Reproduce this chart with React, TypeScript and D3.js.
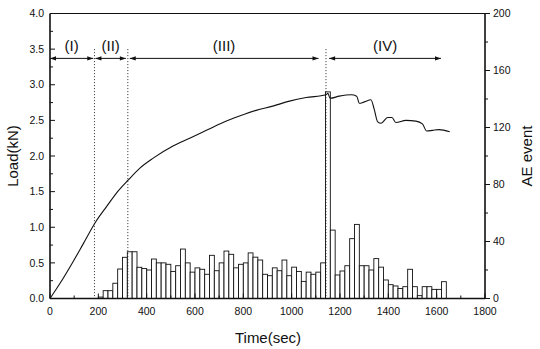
import React from "react";
import * as d3 from "d3";

const X_TICKS = [0, 200, 400, 600, 800, 1000, 1200, 1400, 1600, 1800];
const X_MINOR = [100, 300, 500, 700, 900, 1100, 1300, 1500, 1700];
const LOAD_TICKS = [0, 0.5, 1.0, 1.5, 2.0, 2.5, 3.0, 3.5, 4.0];
const LOAD_MINOR = [0.25, 0.75, 1.25, 1.75, 2.25, 2.75, 3.25, 3.75];
const AE_TICKS = [0, 40, 80, 120, 160, 200];
const AE_MINOR = [20, 60, 100, 140, 180];

const LOAD_TIME = [0, 41, 96, 138, 190, 234, 275, 323, 372, 427, 509, 578, 647, 716, 784, 853, 922, 991, 1060, 1142, 1150, 1159, 1197, 1246, 1269, 1280, 1301, 1328, 1342, 1356, 1370, 1397, 1415, 1431, 1473, 1514, 1541, 1559, 1583, 1610, 1654];
const LOAD_VALUE = [0, 0.21, 0.52, 0.77, 1.08, 1.29, 1.48, 1.66, 1.83, 1.97, 2.14, 2.25, 2.36, 2.47, 2.56, 2.64, 2.70, 2.77, 2.82, 2.86, 2.88, 2.81, 2.84, 2.86, 2.84, 2.74, 2.76, 2.79, 2.65, 2.48, 2.46, 2.54, 2.54, 2.47, 2.50, 2.49, 2.45, 2.35, 2.36, 2.37, 2.34];

const AE_FIRST_BIN = 200;
const AE_BIN_WIDTH = 20;
const AE_COUNTS = [
  1, 5.5, 5.5, 10.7, 20.7, 28.9, 32.8, 32.8, 21.9, 21,
  20, 27.7, 25, 25, 24, 19, 23, 34.7, 25, 18.5,
  21.5, 20.5, 17, 30.3, 19.5, 25, 33.3, 31, 21.5, 24,
  25, 32, 29, 27, 17, 16, 21.5, 19.5, 27, 16,
  22, 19, 12, 18.5, 17, 18.5, 25, 145, 48, 16.5,
  19.3, 23, 42, 52, 23, 23, 20, 28, 22, 13,
  9.7, 8.8, 7, 8.3, 20.5, 8.3, 2, 8.3, 8.3, 6.4,
  6.4, 11.8,
];

const REGION_LABELS = ["(I)", "(II)", "(III)", "(IV)"];
const REGION_START = [0, 188, 330, 1155];
const REGION_END = [179, 314, 1111, 1618];
const DIVIDERS = [184, 322, 1142];
const ARROW_LOAD = 3.37;
const LABEL_LOAD = 3.47;
const DIVIDER_TOP_LOAD = 3.5;

const W = 540;
const H = 349;
const INK = "#111";
const FONT = "'Liberation Sans', Arial, Helvetica, sans-serif";

export default function App() {
  const x = d3.scaleLinear().domain([0, 1800]).range([50, 485]);
  const yL = d3.scaleLinear().domain([0, 4]).range([298.5, 13.5]);
  const yR = d3.scaleLinear().domain([0, 200]).range([298.5, 13.5]);

  const loadPts: [number, number][] = LOAD_TIME.map((t, i) => [t, LOAD_VALUE[i]]);
  const line = d3
    .line<[number, number]>()
    .x((d) => x(d[0]))
    .y((d) => yL(d[1]))
    .curve(d3.curveMonotoneX);

  const [x0, x1] = x.range();
  const [yb, yt] = yL.range();

  const arrowHead = (xTip: number, y: number, dir: number) => {
    const len = 6;
    const half = 2.2;
    return `M${xTip},${y} L${xTip - dir * len},${y - half} L${xTip - dir * len},${y + half} Z`;
  };

  return (
    <svg
      width={W}
      height={H}
      viewBox={`0 0 ${W} ${H}`}
      style={{ position: "absolute", left: 0, top: 0, background: "#fff" }}
      fontFamily={FONT}
    >
      <rect x={0} y={0} width={W} height={H} fill="#fff" />

      {/* AE bars */}
      <g>
        {AE_COUNTS.map((v, i) => {
          const t0 = AE_FIRST_BIN + i * AE_BIN_WIDTH;
          const xa = x(t0);
          const xb = x(t0 + AE_BIN_WIDTH);
          const yv = yR(v);
          return (
            <rect
              key={i}
              x={xa}
              y={yv}
              width={xb - xa}
              height={yb - yv}
              fill="#fff"
              stroke={INK}
              strokeWidth={0.9}
            />
          );
        })}
      </g>

      {/* dividers */}
      {DIVIDERS.map((t, i) => (
        <line
          key={i}
          x1={x(t)}
          x2={x(t)}
          y1={yL(DIVIDER_TOP_LOAD)}
          y2={yb}
          stroke={INK}
          strokeWidth={0.9}
          strokeDasharray="1,2"
        />
      ))}

      {/* load curve */}
      <path d={line(loadPts) || ""} fill="none" stroke={INK} strokeWidth={1.1} />

      {/* region arrows */}
      {REGION_LABELS.map((lab, i) => {
        const xa = x(REGION_START[i]);
        const xb = x(REGION_END[i]);
        const ya = yL(ARROW_LOAD);
        return (
          <g key={lab}>
            <line x1={xa} x2={xb} y1={ya} y2={ya} stroke={INK} strokeWidth={1} />
            <path d={arrowHead(xa, ya, -1)} fill={INK} />
            <path d={arrowHead(xb, ya, 1)} fill={INK} />
            <text
              x={(xa + xb) / 2}
              y={yL(LABEL_LOAD)}
              textAnchor="middle"
              fontSize={15}
              fill={INK}
            >
              {lab}
            </text>
          </g>
        );
      })}

      {/* frame */}
      <line x1={x0} x2={x1} y1={yt} y2={yt} stroke={INK} strokeWidth={1.2} />
      <line x1={x0} x2={x1} y1={yb} y2={yb} stroke={INK} strokeWidth={1.6} />
      <line x1={x0} x2={x0} y1={yt} y2={yb} stroke={INK} strokeWidth={1.6} />
      <line x1={x1} x2={x1} y1={yt} y2={yb} stroke={INK} strokeWidth={1.6} />

      {/* x ticks */}
      {X_TICKS.map((t) => (
        <g key={t}>
          <line x1={x(t)} x2={x(t)} y1={yb} y2={yb - 5} stroke={INK} strokeWidth={1} />
          <text x={x(t)} y={315} textAnchor="middle" fontSize={10.5} fill={INK}>
            {t}
          </text>
        </g>
      ))}
      {X_MINOR.map((t) => (
        <line key={t} x1={x(t)} x2={x(t)} y1={yb} y2={yb - 3} stroke={INK} strokeWidth={1} />
      ))}

      {/* left ticks */}
      {LOAD_TICKS.map((v) => (
        <g key={v}>
          <line x1={x0} x2={x0 + 5} y1={yL(v)} y2={yL(v)} stroke={INK} strokeWidth={1} />
          <text x={44} y={yL(v) + 3.7} textAnchor="end" fontSize={10.5} fill={INK}>
            {v.toFixed(1)}
          </text>
        </g>
      ))}
      {LOAD_MINOR.map((v) => (
        <line key={v} x1={x0} x2={x0 + 3} y1={yL(v)} y2={yL(v)} stroke={INK} strokeWidth={1} />
      ))}

      {/* right ticks */}
      {AE_TICKS.map((v) => (
        <g key={v}>
          <line x1={x1} x2={x1 + 5} y1={yR(v)} y2={yR(v)} stroke={INK} strokeWidth={1} />
          <text x={493} y={yR(v) + 3.7} textAnchor="start" fontSize={10.5} fill={INK}>
            {v}
          </text>
        </g>
      ))}
      {AE_MINOR.map((v) => (
        <line key={v} x1={x1} x2={x1 + 3} y1={yR(v)} y2={yR(v)} stroke={INK} strokeWidth={1} />
      ))}

      {/* axis titles */}
      <text x={268} y={343} textAnchor="middle" fontSize={15} fill={INK}>
        Time(sec)
      </text>
      <text
        transform={`translate(18,156) rotate(-90)`}
        textAnchor="middle"
        fontSize={15}
        fill={INK}
      >
        Load(kN)
      </text>
      <text
        transform={`translate(532,156) rotate(-90)`}
        textAnchor="middle"
        fontSize={15}
        fill={INK}
      >
        AE event
      </text>
    </svg>
  );
}
